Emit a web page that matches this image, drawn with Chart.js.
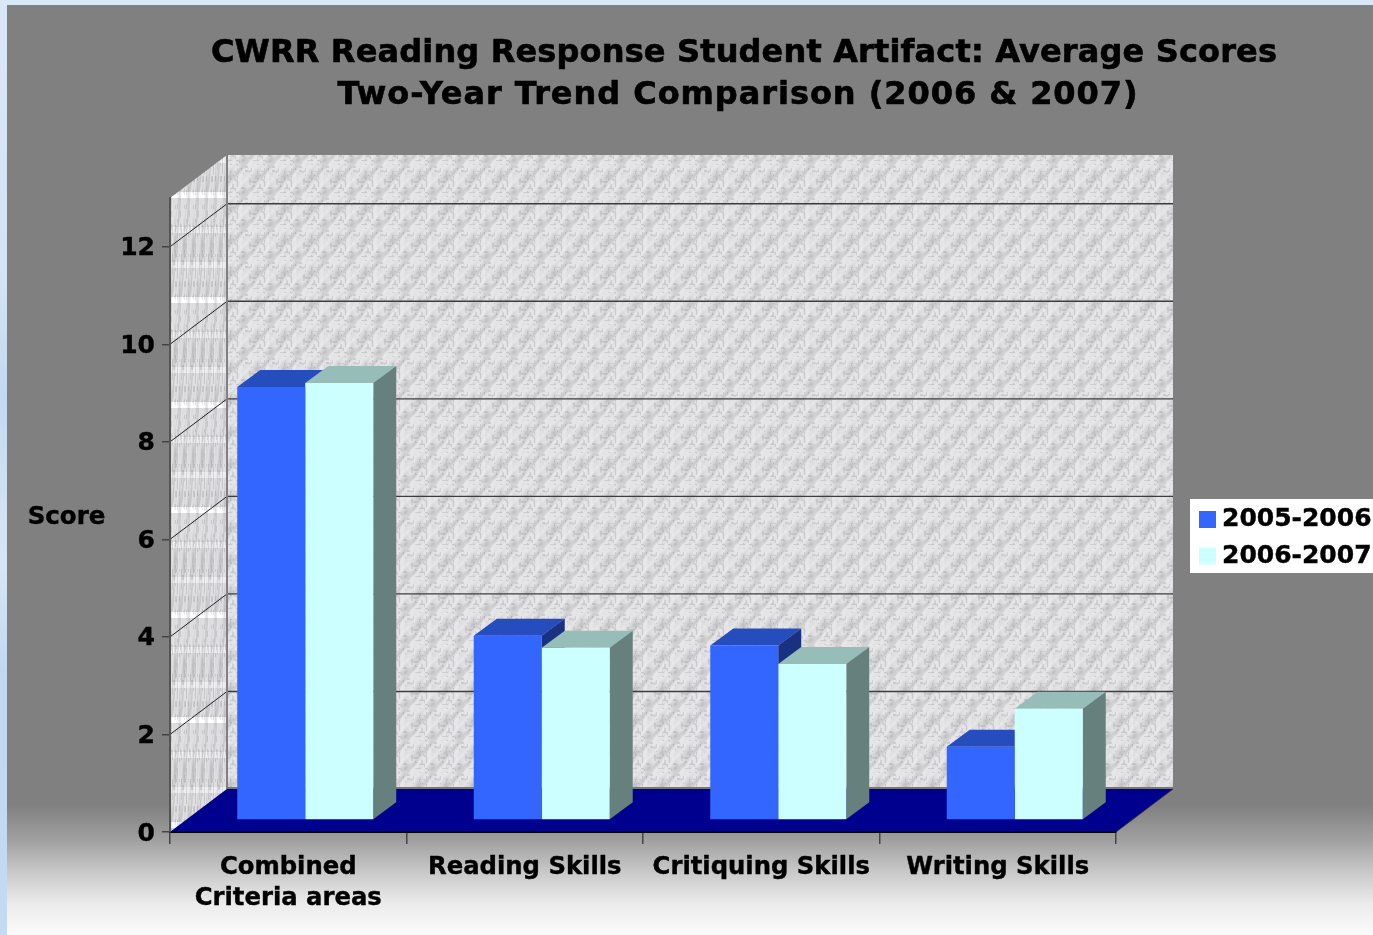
<!DOCTYPE html>
<html>
<head>
<meta charset="utf-8">
<title>CWRR Reading Response Student Artifact</title>
<script src="https://cdn.jsdelivr.net/npm/chart.js@4/dist/chart.umd.min.js"></script>
<style>
  html, body { margin: 0; padding: 0; background: #d8e8f8; overflow: hidden; }
  canvas { display: block; }
</style>
</head>
<body>
<canvas id="scoreChart" width="1373" height="935"></canvas>
<script>
const categories = [['Combined', 'Criteria areas'], 'Reading Skills', 'Critiquing Skills', 'Writing Skills'];
const scores2006 = [8.88, 3.78, 3.58, 1.5];
const scores2007 = [8.96, 3.53, 3.2, 2.28];
const seriesNames = ['2005-2006', '2006-2007'];
const titleLines = ['CWRR Reading Response Student Artifact: Average Scores', 'Two-Year Trend Comparison (2006 & 2007)'];
const yAxisName = 'Score';

const FONT = '"DejaVu Sans", sans-serif';
const WALL_DX = 57, WALL_DY = -43;   // how far the back wall sits behind the axes
const BAR_DX = 17, BAR_DY = -12;     // front face of the bars on the floor
const DEPTH_DX = 23, DEPTH_DY = -17; // depth of each bar

const faces = [
  { front: '#3366ff', top: '#254dbd', side: '#1a3080' },
  { front: '#ccffff', top: '#97bdb9', side: '#66807d' }
];

// small periodic value noise, used only for the marble wall texture
function hash(x, y) {
  const s = Math.sin(x * 127.1 + y * 311.7) * 43758.5453;
  return s - Math.floor(s);
}
function noise(x, y, px, py) {
  const x0 = Math.floor(x), y0 = Math.floor(y);
  let fx = x - x0, fy = y - y0;
  fx = fx * fx * (3 - 2 * fx);
  fy = fy * fy * (3 - 2 * fy);
  const at = (a, b) => hash(((a % px) + px) % px, ((b % py) + py) % py);
  const top = at(x0, y0) * (1 - fx) + at(x0 + 1, y0) * fx;
  const bot = at(x0, y0 + 1) * (1 - fx) + at(x0 + 1, y0 + 1) * fx;
  return top * (1 - fy) + bot * fy;
}
function marbleTile(w, h, base, shade) {
  const tile = document.createElement('canvas');
  tile.width = w;
  tile.height = h;
  const c = tile.getContext('2d');
  const img = c.createImageData(w, h);
  for (let y = 0; y < h; y++) {
    for (let x = 0; x < w; x++) {
      const p = x / w, q = y / h, i = (y * w + x) * 4;
      // diagonal streaks, lower left to upper right
      const streak = noise(6 * p + 6 * q, 2 * p - 2 * q + 2, 6, 2);
      const fine = noise(p * 9, q * 10, 9, 10);
      const fleck = noise(p * 13 + 3, q * 15, 13, 15);
      let v = base + streak * 38 + fine * 12;
      if (fleck < 0.24) v -= 22;
      if (shade) v = shade(q, v);
      v = Math.min(255, v);
      img.data[i] = v;
      img.data[i + 1] = v;
      img.data[i + 2] = Math.min(255, v + 2);
      img.data[i + 3] = 255;
    }
  }
  c.putImageData(img, 0, 0);
  return tile;
}
// the side wall repeats a squeezed tile with one bright band and two faint ones
function sideBands(q, v) {
  if (q < 0.05) return v + 34;
  if ((q > 0.33 && q < 0.39) || (q > 0.66 && q < 0.72)) return v + 16;
  return v;
}

function polygon(ctx, pts, fill) {
  ctx.beginPath();
  pts.forEach((p, i) => i ? ctx.lineTo(p[0], p[1]) : ctx.moveTo(p[0], p[1]));
  ctx.closePath();
  ctx.fillStyle = fill;
  ctx.fill();
}

const backdrop = {
  id: 'backdrop',
  beforeDraw(chart) {
    const ctx = chart.ctx;
    const { left, right, top, bottom } = chart.chartArea;
    const yScale = chart.scales.y;
    const w = chart.width, h = chart.height;

    // slide background and the grey panel on it
    ctx.save();
    ctx.fillStyle = '#d8e8f8';
    ctx.fillRect(0, 0, w, h);
    const strip = ctx.createLinearGradient(0, 0, 0, h);
    strip.addColorStop(0, '#d8e8f8');
    strip.addColorStop(0.3, '#d2e3f5');
    strip.addColorStop(0.42, '#c3d9f0');
    strip.addColorStop(0.6, '#d6e6f6');
    strip.addColorStop(0.72, '#c2d8f0');
    strip.addColorStop(1, '#c4daf1');
    ctx.fillStyle = strip;
    ctx.fillRect(0, 0, 7, h);
    const panel = ctx.createLinearGradient(0, 805, 0, h);
    panel.addColorStop(0, '#808080');
    panel.addColorStop(35 / 130, '#a0a0a0');
    panel.addColorStop(68 / 130, '#cacaca');
    panel.addColorStop(100 / 130, '#ececec');
    panel.addColorStop(1, '#fbfbfb');
    ctx.fillStyle = panel;
    ctx.fillRect(7, 5, w - 7, h - 5);

    // walls
    const backL = left + WALL_DX, backR = right + WALL_DX;
    const backT = top + WALL_DY, backB = bottom + WALL_DY;
    ctx.fillStyle = ctx.createPattern(marbleTile(27, 32, 192), 'repeat');
    ctx.fillRect(backL, backT, backR - backL, backB - backT);

    ctx.save();
    ctx.beginPath();
    ctx.moveTo(left, top);
    ctx.lineTo(backL, backT);
    ctx.lineTo(backL, backB);
    ctx.lineTo(left, bottom);
    ctx.closePath();
    ctx.clip();
    ctx.translate(left, 192);
    ctx.fillStyle = ctx.createPattern(marbleTile(9, 105, 186, sideBands), 'repeat');
    ctx.fillRect(0, -110, WALL_DX, bottom - 192 + 110);
    ctx.restore();

    // gridlines run along the back wall and down the side wall
    yScale.ticks.forEach(t => {
      const y = yScale.getPixelForValue(t.value);
      if (t.value > 0) {
        ctx.strokeStyle = '#3c3c3c';
        ctx.lineWidth = 1.4;
        ctx.beginPath();
        ctx.moveTo(backL, y + WALL_DY);
        ctx.lineTo(backR, y + WALL_DY);
        ctx.stroke();
        ctx.strokeStyle = '#222222';
        ctx.lineWidth = 1;
        ctx.beginPath();
        ctx.moveTo(left, y);
        ctx.lineTo(backL, y + WALL_DY);
        ctx.stroke();
      }
    });

    ctx.strokeStyle = '#808080';
    ctx.lineWidth = 2;
    ctx.beginPath();
    ctx.moveTo(backL, backT);
    ctx.lineTo(backL, backB);
    ctx.stroke();

    // floor
    polygon(ctx, [[left, bottom], [backL, backB], [backR, backB], [right, bottom]], '#00008f');
    ctx.strokeStyle = '#777777';
    ctx.lineWidth = 2;
    ctx.beginPath();
    ctx.moveTo(backL, backB - 1);
    ctx.lineTo(backR, backB - 1);
    ctx.stroke();
    ctx.strokeStyle = '#333333';
    ctx.lineWidth = 1;
    ctx.beginPath();
    ctx.moveTo(right, bottom);
    ctx.lineTo(backR, backB);
    ctx.stroke();
    ctx.restore();
  },
  afterDraw(chart) {
    const ctx = chart.ctx;
    ctx.save();
    ctx.fillStyle = '#000000';
    ctx.strokeStyle = '#000000';
    ctx.textBaseline = 'middle';

    ctx.font = 'bold 32px ' + FONT;
    ctx.textAlign = 'center';
    ctx.lineWidth = 0.6;
    ctx.letterSpacing = '0.15px';
    ctx.fillText(titleLines[0], 744, 54);
    ctx.strokeText(titleLines[0], 744, 54);
    ctx.letterSpacing = '0.95px';
    ctx.fillText(titleLines[1], 738, 96);
    ctx.strokeText(titleLines[1], 738, 96);
    ctx.letterSpacing = '0px';

    ctx.font = 'bold 24.5px ' + FONT;
    ctx.lineWidth = 0.4;
    ctx.fillText(yAxisName, 66.5, 518);
    ctx.strokeText(yAxisName, 66.5, 518);

    // legend box
    ctx.font = 'bold 25px ' + FONT;
    ctx.fillStyle = '#ffffff';
    ctx.fillRect(1190, 499, 183, 74);
    ctx.textAlign = 'left';
    seriesNames.forEach((name, i) => {
      const y = 519.5 + i * 36.5;
      ctx.fillStyle = faces[i].front;
      ctx.fillRect(1199, y - 8.5, 17, 17);
      ctx.fillStyle = '#000000';
      ctx.fillText(name, 1222, y);
      ctx.strokeText(name, 1222, y);
    });
    ctx.restore();
  }
};

// top and side faces go down first, blue before cyan, then the library draws
// the flat faces shifted back onto the floor
const barDepth = {
  id: 'barDepth',
  beforeDatasetsDraw(chart) {
    const ctx = chart.ctx;
    ctx.save();
    ctx.translate(BAR_DX, BAR_DY);
    faces.forEach((face, index) => {
      chart.getDatasetMeta(index).data.forEach(bar => {
        const l = bar.x - bar.width / 2, r = bar.x + bar.width / 2;
        polygon(ctx, [[l, bar.y], [l + DEPTH_DX, bar.y + DEPTH_DY], [r + DEPTH_DX, bar.y + DEPTH_DY], [r, bar.y]], face.top);
        polygon(ctx, [[r, bar.y], [r + DEPTH_DX, bar.y + DEPTH_DY], [r + DEPTH_DX, bar.base + DEPTH_DY], [r, bar.base]], face.side);
      });
    });
  },
  afterDatasetsDraw(chart) {
    chart.ctx.restore();
  }
};

new Chart(document.getElementById('scoreChart'), {
  type: 'bar',
  data: {
    labels: categories,
    datasets: [
      { label: seriesNames[0], data: scores2006, backgroundColor: faces[0].front, clip: false },
      { label: seriesNames[1], data: scores2007, backgroundColor: faces[1].front, clip: false }
    ]
  },
  plugins: [backdrop, barDepth],
  options: {
    responsive: false,
    animation: false,
    events: [],
    layout: { padding: { left: 0, right: 257, top: 198, bottom: 0 } },
    datasets: { bar: { categoryPercentage: 0.575, barPercentage: 1 } },
    plugins: { legend: { display: false }, tooltip: { enabled: false } },
    scales: {
      x: {
        afterFit(scale) { scale.height = 103; },
        border: { color: '#000000', width: 2 },
        grid: { drawOnChartArea: false, tickLength: 12, color: '#444444', lineWidth: 1.5 },
        ticks: {
          color: '#000000',
          textStrokeColor: '#000000',
          textStrokeWidth: 0.4,
          maxRotation: 0,
          autoSkip: false,
          padding: 8,
          font: { family: FONT, size: 24.3, weight: 'bold', lineHeight: 1.27 }
        }
      },
      y: {
        min: 0,
        max: 13,
        afterFit(scale) { scale.width = 170; },
        border: { color: '#555555', width: 2 },
        grid: { drawOnChartArea: false, tickLength: 8, color: '#444444', lineWidth: 1.5 },
        ticks: {
          color: '#000000',
          textStrokeColor: '#000000',
          textStrokeWidth: 0.4,
          stepSize: 2,
          includeBounds: false,
          padding: 7,
          // the empty first line nudges each number 2px below its tick
          callback: value => ['', String(value)],
          font: { family: FONT, size: 25, weight: 'bold', lineHeight: '4px' }
        }
      }
    }
  }
});
</script>
</body>
</html>
